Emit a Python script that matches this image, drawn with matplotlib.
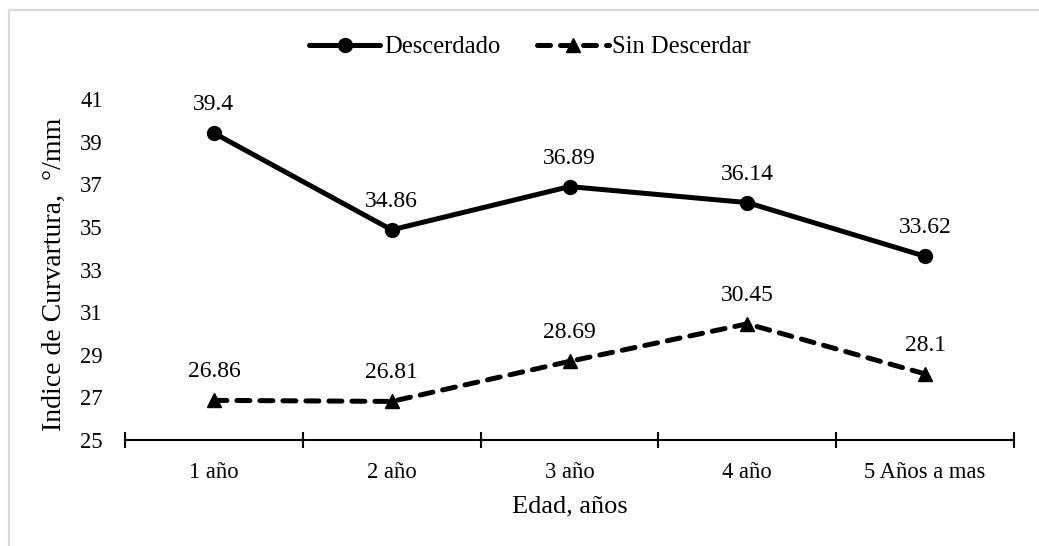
import matplotlib
matplotlib.use("Agg")
import matplotlib.pyplot as plt
from matplotlib.patches import Rectangle

categories = ["1 año", "2 año", "3 año", "4 año", "5 Años a mas"]
descerdado = [39.4, 34.86, 36.89, 36.14, 33.62]
sin_descerdar = [26.86, 26.81, 28.69, 30.45, 28.1]
labels_desc = ["39.4", "34.86", "36.89", "36.14", "33.62"]
labels_sin = ["26.86", "26.81", "28.69", "30.45", "28.1"]
yticks = [25, 27, 29, 31, 33, 35, 37, 39, 41]

plt.rcParams['font.family'] = ['Liberation Serif', 'DejaVu Serif']
fs = 16.3

fig = plt.figure(figsize=(10.39, 5.46), dpi=100)
fig.patches.append(Rectangle((9/1039, -0.01), 1.1, (1 - 10/546) + 0.01, transform=fig.transFigure,
                             fill=False, edgecolor='#d9d9d9', linewidth=1.5))
ax = fig.add_axes([125/1039, 1 - 440/546, (1014 - 125)/1039, (440 - 99)/546])

x = list(range(len(categories)))
ax.plot(x, descerdado, color='black', linewidth=3.6, marker='o', markersize=10, markeredgewidth=1,
        label='Descerdado', solid_capstyle='round')
ax.plot(x, sin_descerdar, color='black', linewidth=3.6, marker='^', markersize=10, markeredgewidth=1,
        linestyle=(0, (2.6, 2.0)), dash_capstyle='round', label='Sin Descerdar')

for xi, v, t in zip(x, descerdado, labels_desc):
    ax.annotate(t, (xi, v), xytext=(0, 13), textcoords='offset points',
                ha='center', va='bottom', fontsize=17)
for xi, v, t in zip(x, sin_descerdar, labels_sin):
    ax.annotate(t, (xi, v), xytext=(0, 13), textcoords='offset points',
                ha='center', va='bottom', fontsize=17)

ax.set_xlim(-0.5, len(categories) - 0.5)
ax.set_ylim(25, 41)
ax.set_yticks(yticks)
ax.set_yticklabels([str(v) for v in yticks], fontsize=fs)
ax.set_xticks(x)
ax.set_xticklabels(categories, fontsize=fs)
ax.set_xticks([i - 0.5 for i in range(len(categories) + 1)], minor=True)
ax.tick_params(axis='x', which='major', length=0, pad=16)
ax.tick_params(axis='x', which='minor', direction='inout', length=12, width=1.5)
ax.tick_params(axis='y', length=0, pad=16)
for s in ['top', 'right', 'left']:
    ax.spines[s].set_visible(False)
ax.spines['bottom'].set_linewidth(1.5)

ax.set_xlabel('Edad, años', fontsize=19, labelpad=9)
ax.set_ylabel('Indice de Curvartura,  °/mm', fontsize=20, labelpad=6)
ax.yaxis.set_label_coords(-0.0657, 0.485)

fig.legend(loc='center', bbox_to_anchor=(530/1039, 1 - 47/546), ncol=2, frameon=False,
           fontsize=17.7, handlelength=2.9, columnspacing=1.5, handletextpad=0.15)

fig.savefig('out.png', dpi=100)
